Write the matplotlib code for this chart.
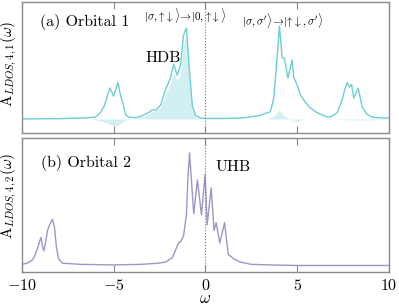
import numpy as np
import matplotlib.pyplot as plt

plt.rcParams['font.family'] = 'cmr10'
plt.rcParams['mathtext.fontset'] = 'cm'
plt.rcParams['axes.formatter.use_mathtext'] = True

# Orbital 1: total LDOS (line)
w1 = [-10, -8, -7.4, -6.5, -6.0, -5.72, -5.5, -5.34, -5.2, -5.01, -4.77, -4.63,
      -4.47, -4.36, -4.2, -3.8, -3.5, -3.1, -2.9, -2.7, -2.45, -2.18, -1.91,
      -1.73, -1.54, -1.36, -1.2, -1.04, -0.88, -0.72, -0.54, -0.27, 0.0, 1.0,
      2.0, 3.0, 3.54, 3.72, 3.87, 4.03, 4.18, 4.3, 4.49, 4.72, 4.81, 5.0, 5.18,
      5.45, 5.72, 6.0, 6.27, 6.65, 6.9, 7.18, 7.45, 7.6, 7.72, 7.85, 7.96, 8.08,
      8.32, 8.54, 8.81, 9.1, 9.54, 10]
a1 = [0.0, 0.003, 0.006, 0.012, 0.02, 0.07, 0.15, 0.26, 0.34, 0.25, 0.40, 0.26,
      0.15, 0.05, 0.02, 0.015, 0.03, 0.07, 0.1, 0.1, 0.15, 0.32, 0.45,
      0.6, 0.48, 0.59, 0.92, 1.0, 0.55, 0.15, 0.04, 0.01, 0.005, 0.005,
      0.01, 0.04, 0.08, 0.23, 0.59, 1.02, 0.67, 0.67, 0.45, 0.65, 0.46, 0.37, 0.26,
      0.18, 0.12, 0.08, 0.05, 0.02, 0.03, 0.07, 0.21, 0.33, 0.4, 0.35, 0.38, 0.23,
      0.34, 0.13, 0.05, 0.02, 0.01, 0.01]

# Orbital 1: shaded component
wf = [-10, -6.3, -6.0, -5.6, -5.3, -5.0, -4.9, -4.7, -4.5, -4.3, -4.0, -3.5,
      -3.1, -2.9, -2.45, -2.18, -1.91, -1.73, -1.54, -1.36, -1.2, -1.04, -0.88,
      -0.72, -0.54, -0.3, 0.0, 3.3, 3.7, 4.03, 4.3, 4.6, 4.8, 5.0, 5.2, 5.5,
      7.0, 8.0, 9.0, 10]
f1 = [0, 0, -0.01, -0.03, -0.05, -0.07, -0.08, -0.06, -0.03, -0.01, 0.0, 0.02,
      0.05, 0.08, 0.12, 0.27, 0.38, 0.52, 0.42, 0.5, 0.82, 0.9, 0.45,
      0.1, 0.02, 0.0, 0, 0.0, 0.03, 0.1, 0.03, 0.0, -0.01, -0.035, -0.01, 0.0,
      0.0, -0.012, -0.01, 0]

# Orbital 2
w2 = [-10, -9.73, -9.46, -9.35, -9.18, -9.07, -8.96, -8.87, -8.81, -8.72, -8.61,
      -8.5, -8.34, -8.23, -8.12, -8.01, -7.79, -6.81, -5, -3.5, -2.6, -2.18,
      -1.8, -1.47, -1.36, -1.2, -1.04, -0.95, -0.87, -0.64, -0.44, -0.22, -0.02,
      0.09, 0.31, 0.47, 0.58, 0.78, 1.04, 1.24, 1.53, 1.9, 2.5, 3.5, 5, 10]
a2 = [0.01, 0.02, 0.045, 0.07, 0.14, 0.2, 0.25, 0.16, 0.13, 0.2, 0.31,
      0.36, 0.41, 0.34, 0.16, 0.06, 0.02, 0.01, 0.005, 0.01, 0.02, 0.03,
      0.07, 0.2, 0.21, 0.26, 0.45, 0.8, 1.0, 0.46, 0.76, 0.45, 0.81,
      0.36, 0.69, 0.31, 0.38, 0.2, 0.38, 0.1, 0.06, 0.03, 0.01, 0.005, 0.0, 0.0]

cyan = '#6ccfd2'
lav = '#9d97c9'
frame = '#8a8a8a'

fig = plt.figure(figsize=(3.99, 3.07), dpi=100)
ax1 = fig.add_axes([0.0551, 0.567, 0.9198, 0.4265])
ax2 = fig.add_axes([0.0551, 0.114, 0.9198, 0.4365])

ax1.fill_between(wf, f1, 0, color=cyan, alpha=0.3, lw=0)
ax1.plot(w1, a1, color=cyan, lw=1.0)
ax1.set_ylim(-0.154, 1.286)

ax2.plot(w2, a2, color=lav, lw=1.0)
ax2.set_ylim(-0.058, 1.133)

for ax in (ax1, ax2):
    ax.set_xlim(-10, 10)
    ax.axvline(0, color='#777777', ls=':', lw=0.8)
    ax.set_xticks([-10, -5, 0, 5, 10])
    ax.set_yticks([])
    ax.tick_params(axis='x', direction='in', top=True, length=5,
                   color=frame, labelsize=11.5, pad=4)
    for s in ax.spines.values():
        s.set_color(frame)
        s.set_linewidth(1.0)

ax1.tick_params(axis='x', labelbottom=False)
ax2.set_xlabel(r'$\omega$', fontsize=12, labelpad=-1)

ax1.set_ylabel(r'A$_{LDOS,4,1}(\omega)$', fontsize=11)
ax2.set_ylabel(r'A$_{LDOS,4,2}(\omega)$', fontsize=11)
ax1.yaxis.set_label_coords(-0.007, 0.53)
ax2.yaxis.set_label_coords(-0.007, 0.57)

ax1.text(-9.0, 1.07, '(a) Orbital 1', fontsize=11.5, ha='left', va='center')
ax2.text(-8.94, 0.91, '(b) Orbital 2', fontsize=11.5, ha='left', va='center')
ax1.text(-2.32, 0.67, 'HDB', fontsize=11.5, ha='center', va='center')
ax2.text(1.5, 0.87, 'UHB', fontsize=11.5, ha='center', va='center')
ax1.text(-1.09, 1.14, r'$|\sigma,\!\uparrow\!\downarrow\rangle\!\rightarrow\!|0,\!\uparrow\!\downarrow\rangle$',
         fontsize=8, ha='center', va='center')
ax1.text(4.22, 1.08, r"$|\sigma,\sigma'\rangle\!\rightarrow\!|\!\uparrow\!\downarrow,\sigma'\rangle$",
         fontsize=8, ha='center', va='center')

fig.savefig('out.png', dpi=100)
